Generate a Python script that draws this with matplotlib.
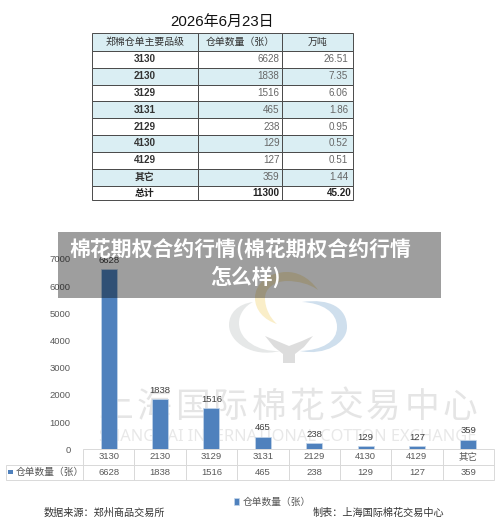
import matplotlib
matplotlib.use("Agg")
import matplotlib.pyplot as plt
from matplotlib.patches import PathPatch, Rectangle
from matplotlib.path import Path

plt.rcParams['font.family'] = ['Liberation Sans', 'Noto Sans CJK SC', 'DejaVu Sans']

# data
grades = ['3130', '2130', '3129', '3131', '2129', '4130', '4129', '其它']
counts = [6628, 1838, 1516, 465, 238, 129, 127, 359]
tons = ['26.51', '7.35', '6.06', '1.86', '0.95', '0.52', '0.51', '1.44']
total_count = '11300'
total_tons = '45.20'
table_header = ['郑棉仓单主要品级', '仓单数量（张）', '万吨']
series_name = '仓单数量（张）'
y_ticks = [0, 1000, 2000, 3000, 4000, 5000, 6000, 7000]
watermark_cn = '上海国际棉花交易中心'
watermark_en = 'SHANGHAI INTERNATIONAL COTTON EXCHANGE'

W, H = 500, 532
BLUE = '#4f81bd'
fig = plt.figure(figsize=(W / 100, H / 100), dpi=100, facecolor='white')


def px_axes(x0, y0, x1, y1, z):
    """axes placed by pixel box, y measured from the top of the image"""
    ax = fig.add_axes([x0 / W, 1 - y1 / H, (x1 - x0) / W, (y1 - y0) / H], zorder=z)
    ax.patch.set_alpha(0)
    return ax


# background layer: logo + watermark
bg = px_axes(0, 0, W, H, 0)
bg.set_xlim(0, W)
bg.set_ylim(H, 0)
bg.axis('off')


def blob(points, color):
    # closed shape made of cubic pieces
    codes = [Path.MOVETO] + [Path.CURVE4] * (len(points) - 1)
    bg.add_patch(PathPatch(Path(points, codes), fc=color, ec='none'))


blob([(318, 290), (308, 276), (296, 272), (287, 272),
      (268, 272), (255, 284), (255, 298),
      (255, 310), (264, 320), (277, 324),
      (270, 318), (265, 308), (265, 298),
      (265, 288), (275, 281), (287, 281),
      (298, 281), (310, 284), (318, 290)], '#faeec8')
blob([(302, 302), (330, 298), (347, 308), (347, 327),
      (347, 343), (325, 356), (300, 351),
      (322, 350), (337, 342), (337, 327),
      (337, 312), (322, 303), (302, 302)], '#cfdfed')
blob([(253, 302), (238, 304), (229, 313), (229, 325),
      (229, 342), (252, 358), (280, 351),
      (258, 352), (239, 340), (239, 323),
      (239, 314), (245, 306), (253, 302)], '#e6e8e8')
tree_x = [265, 274, 283, 283, 295, 295, 304, 313, 302, 289, 277]
tree_y = [336, 347, 354, 363, 363, 354, 347, 336, 341, 346, 341]
bg.fill(tree_x, tree_y, color='#dddddd', lw=0)

for i, ch in enumerate(watermark_cn):
    bg.text(116 + 38.2 * i, 407, ch, fontsize=25, color='#e5e5e5', ha='center', va='center',
            family=['Noto Sans CJK SC'], fontweight='light')
bg.text(288, 437, watermark_en, fontsize=11.8, color='#e8e8e8',
        ha='center', va='center', family=['Noto Sans'], fontweight='light')

# bar chart with data table underneath
ax = px_axes(83, 259, 494, 449.3, 1)
xs = range(len(grades))
bars = ax.bar(xs, counts, width=0.31, color=BLUE, edgecolor='#c5d7ea', linewidth=0.5, label=series_name)
ax.bar_label(bars, labels=[str(c) for c in counts], fontsize=6.8, color='#404040', padding=3)
ax.set_xlim(-0.5, 7.5)
ax.set_ylim(0, 7000)
ax.set_yticks(y_ticks)
ax.tick_params(axis='y', length=0, labelsize=6.8, labelcolor='#595959', pad=9)
ax.set_xticks([])
for s in ax.spines.values():
    s.set_visible(False)

label_w = 77 / 411
tbl_h = 30.7 / 190.3
data_tbl = ax.table(cellText=[[series_name] + [str(c) for c in counts]],
                    colLabels=[''] + grades,
                    colWidths=[label_w] + [1 / 8] * 8,
                    cellLoc='center',
                    bbox=[-label_w, -tbl_h, 1 + label_w, tbl_h])
data_tbl.auto_set_font_size(False)
for (r, c), cell in data_tbl.get_celld().items():
    cell.set_edgecolor('#d9d9d9')
    cell.set_linewidth(0.7)
    cell.set_text_props(fontsize=6.8, color='#595959')
    cell.set_facecolor('none')
    if c == 0:
        cell.PAD = 0.13
        cell.set_text_props(ha='left', fontsize=7)
        cell._loc = 'left'
        if r == 0:
            cell.visible_edges = 'open'

ax.legend(handles=[bars], loc='center', bbox_to_anchor=((272 - 83) / 411, (449.3 - 502) / 190.3),
          frameon=False, fontsize=7, labelcolor='#595959', handlelength=0.6, handleheight=0.6,
          handletextpad=0.3, borderpad=0)

# top table
tb = px_axes(91.7, 33.5, 353, 200, 2)
tb.axis('off')
rows = [[g, str(c), t] for g, c, t in zip(grades, counts, tons)]
rows.append(['总计', total_count, total_tons])
row_h = [17.2, 17, 17, 16.6, 16.7, 17, 16.7, 17, 17, 14.3]
col_w = [106.3, 84, 71]
main_tbl = tb.table(cellText=[table_header] + rows, colWidths=[w / 261.3 for w in col_w], bbox=[0, 0, 1, 1])
main_tbl.auto_set_font_size(False)
n_rows = len(rows) + 1
for (r, c), cell in main_tbl.get_celld().items():
    cell.set_height(row_h[r] / 166.5)
    cell.set_edgecolor('#4a4a4a')
    cell.set_linewidth(0.7)
    cell.set_facecolor('#daeef3' if r % 2 == 0 else 'white')
    txt = cell.get_text()
    txt.set_fontsize(7.1)
    if r == 0 or c == 0:
        cell._loc = 'center'
        txt.set_ha('center')
        txt.set_color('#333333')
        txt.set_fontweight('bold' if r > 0 else 'normal')
    else:
        cell._loc = 'right'
        txt.set_ha('right')
        txt.set_color('#666666')
        cell.PAD = 0.03 if c == 1 else 0.07
    if r == n_rows - 1:
        cell.set_facecolor('white')
        txt.set_fontweight('bold')
        txt.set_color('#222222')
        if c == 2:
            cell.PAD = 0.02

# top layer: titles, footer and the grey band
top = px_axes(0, 0, W, H, 3)
top.set_xlim(0, W)
top.set_ylim(H, 0)
top.axis('off')
top.add_patch(Rectangle((8, 470), 5, 4, fc=BLUE, ec='none'))
top.text(222, 22, '2026年6月23日', fontsize=10.8, color='#111111', ha='center', va='center',
         family=['Liberation Sans', 'Noto Sans CJK SC'])
top.text(104.5, 513, '数据来源：郑州商品交易所', fontsize=7.3, color='#333333', ha='center', va='center')
top.text(378, 513, '制表：上海国际棉花交易中心', fontsize=7.3, color='#333333', ha='center', va='center')
top.add_patch(Rectangle((58, 232), 383, 66, fc='black', alpha=0.38, ec='none'))
top.text(240, 250, '棉花期权合约行情(棉花期权合约行情', fontsize=15, color='white', fontweight='bold',
         ha='center', va='center', family=['Noto Sans CJK SC'])
top.text(245.5, 277, '怎么样)', fontsize=15, color='white', fontweight='bold',
         ha='center', va='center', family=['Noto Sans CJK SC'])

fig.savefig('out.png', dpi=100)
